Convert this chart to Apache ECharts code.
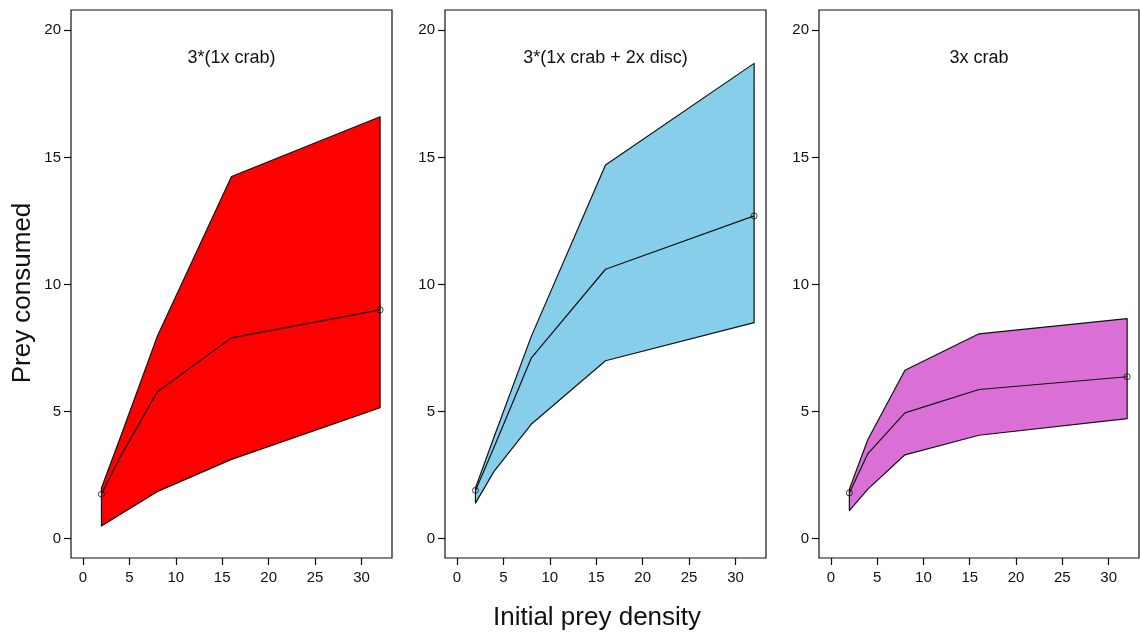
<!DOCTYPE html>
<html>
<head>
<meta charset="utf-8">
<script src="https://cdn.jsdelivr.net/npm/echarts@6/dist/echarts.min.js"></script>
<style>
  html, body { margin: 0; padding: 0; background: #fff; }
  #chart { width: 1140px; height: 636px; }
</style>
</head>
<body>
<div id="chart"></div>
<script>
// Initial prey density levels
const density = [2, 4, 8, 16, 32];

// Panel titles and ribbon fills
const panelTitles = ['3*(1x crab)', '3*(1x crab + 2x disc)', '3x crab'];
const fillColors = ['#FF0000', '#87CEEB', '#DA70D6'];

// 3*(1x crab)
const crab1Lower  = [0.5, 0.95, 1.85, 3.12, 5.15];
const crab1Median = [1.75, 3.2, 5.77, 7.9, 9.0];
const crab1Upper  = [2.0, 3.95, 7.95, 14.25, 16.6];

// 3*(1x crab + 2x disc)
const discLower  = [1.4, 2.65, 4.5, 7.0, 8.5];
const discMedian = [1.9, 3.6, 7.1, 10.6, 12.7];
const discUpper  = [2.0, 4.0, 7.95, 14.7, 18.7];

// 3x crab
const crab3Lower  = [1.1, 1.95, 3.3, 4.07, 4.72];
const crab3Median = [1.8, 3.35, 4.95, 5.87, 6.37];
const crab3Upper  = [1.95, 3.9, 6.63, 8.06, 8.66];

// Tick labels
const xTicks = [0, 5, 10, 15, 20, 25, 30];
const yTicks = [0, 5, 10, 15, 20];

const panels = [
  { lower: crab1Lower, median: crab1Median, upper: crab1Upper },
  { lower: discLower,  median: discMedian,  upper: discUpper },
  { lower: crab3Lower, median: crab3Median, upper: crab3Upper }
];

const FONT = "'Liberation Sans', Arial, sans-serif";
const INK = '#111';
const gridLefts = [71, 445, 819];
const gridWidths = [321, 321, 320];
const gridTop = 10, gridHeight = 548;

const grids = [], xAxes = [], yAxes = [], series = [], graphics = [];

panels.forEach((p, i) => {
  grids.push({
    left: gridLefts[i], top: gridTop, width: gridWidths[i], height: gridHeight,
    show: true, borderColor: INK, borderWidth: 1.2, backgroundColor: 'transparent',
    containLabel: false
  });
  xAxes.push({
    type: 'value', gridIndex: i, min: -1.28, max: 33.28, position: 'bottom',
    axisLine: { show: false, onZero: false },
    axisTick: { show: true, inside: false, length: 7, lineStyle: { color: INK, width: 1.2 }, customValues: xTicks },
    axisLabel: { show: true, margin: 12, color: INK, fontSize: 15, fontFamily: FONT, customValues: xTicks },
    splitLine: { show: false }
  });
  yAxes.push({
    type: 'value', gridIndex: i, min: -0.76, max: 20.8, position: 'left',
    axisLine: { show: false, onZero: false },
    axisTick: { show: true, inside: false, length: 7, lineStyle: { color: INK, width: 1.2 }, customValues: yTicks },
    axisLabel: { show: true, margin: 10, color: INK, fontSize: 15, fontFamily: FONT, customValues: yTicks },
    splitLine: { show: false }
  });

  const fill = fillColors[i];
  // Shaded band between lower and upper bounds, outlined in black
  series.push({
    type: 'custom', xAxisIndex: i, yAxisIndex: i, silent: true, z: 1,
    data: density.map((x, k) => [x, p.lower[k], p.upper[k]]),
    encode: { x: 0, y: [1, 2] },
    renderItem: function (params, api) {
      if (params.dataIndex !== 0) return null;
      const pts = [];
      for (let k = 0; k < density.length; k++) pts.push(api.coord([density[k], p.upper[k]]));
      for (let k = density.length - 1; k >= 0; k--) pts.push(api.coord([density[k], p.lower[k]]));
      return {
        type: 'polygon',
        shape: { points: pts },
        style: { fill: fill, stroke: INK, lineWidth: 1.2, lineJoin: 'round' }
      };
    }
  });
  // Median curve
  series.push({
    type: 'line', xAxisIndex: i, yAxisIndex: i, silent: true, z: 3,
    data: density.map((x, k) => [x, p.median[k]]),
    showSymbol: false, symbol: 'none',
    lineStyle: { color: INK, width: 1.2, join: 'round' }
  });
  // Open circles at the ends of the median curve
  const last = density.length - 1;
  series.push({
    type: 'scatter', xAxisIndex: i, yAxisIndex: i, silent: true, z: 4,
    data: [[density[0], p.median[0]], [density[last], p.median[last]]],
    symbol: 'circle', symbolSize: 6,
    itemStyle: { color: 'rgba(0,0,0,0)', borderColor: INK, borderWidth: 1 }
  });

  graphics.push({
    type: 'text', x: gridLefts[i] + gridWidths[i] / 2, y: 58, silent: true,
    style: { text: panelTitles[i], font: '18px ' + FONT, fill: INK, align: 'center', verticalAlign: 'middle' }
  });
});

graphics.push({
  type: 'text', x: 597, y: 618, silent: true,
  style: { text: 'Initial prey density', font: '26px ' + FONT, fill: INK, align: 'center', verticalAlign: 'middle' }
});
graphics.push({
  type: 'text', x: 23, y: 293, rotation: Math.PI / 2, silent: true,
  style: { text: 'Prey consumed', font: '26px ' + FONT, fill: INK, align: 'center', verticalAlign: 'middle' }
});

const chart = echarts.init(document.getElementById('chart'), null, { renderer: 'canvas' });
chart.setOption({
  animation: false,
  backgroundColor: '#fff',
  grid: grids,
  xAxis: xAxes,
  yAxis: yAxes,
  series: series,
  graphic: graphics
});
</script>
</body>
</html>
